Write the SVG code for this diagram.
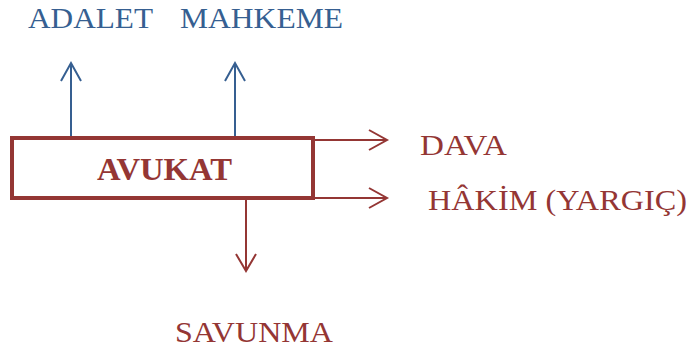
<svg xmlns="http://www.w3.org/2000/svg" width="695" height="350" viewBox="0 0 695 350">
<style>
.t{font-family:"Liberation Serif","Times New Roman",serif;font-size:30px}
.b{fill:#365F91}
.r{fill:#943634}
.lb{stroke:#365F91;stroke-width:2;fill:none}
.lr{stroke:#943634;stroke-width:2;fill:none}
</style>
<rect width="695" height="350" fill="#fff"/>
<g id="connectors">
<path class="lb" d="M71 136V63M61 81L71 63L81 81"/>
<path class="lb" d="M235 136V63M225 81L235 63L245 81"/>
<path class="lr" d="M315 140H387M369 130L387 140L369 150"/>
<path class="lr" d="M315 198H387M369 188L387 198L369 208"/>
<path class="lr" d="M246 200V271M236 254L246 271L256 254"/>
</g>
<g id="avukat">
<rect x="12" y="138" width="301" height="60" fill="#fff" stroke="#943634" stroke-width="4"/>
<text class="t r" x="97" y="180" font-weight="bold" font-size="31" textLength="135" lengthAdjust="spacingAndGlyphs" style="font-size:31px">AVUKAT</text>
</g>
<g id="adalet"><text class="t b" x="28" y="28" textLength="125" lengthAdjust="spacingAndGlyphs">ADALET</text></g>
<g id="mahkeme"><text class="t b" x="180" y="28" textLength="163" lengthAdjust="spacingAndGlyphs">MAHKEME</text></g>
<g id="dava"><text class="t r" x="420" y="155" textLength="87" lengthAdjust="spacingAndGlyphs">DAVA</text></g>
<g id="hakim"><text class="t r" x="428" y="210" textLength="259" lengthAdjust="spacingAndGlyphs">HÂKİM (YARGIÇ)</text></g>
<g id="savunma"><text class="t r" x="175" y="342" textLength="158" lengthAdjust="spacingAndGlyphs">SAVUNMA</text></g>
</svg>
